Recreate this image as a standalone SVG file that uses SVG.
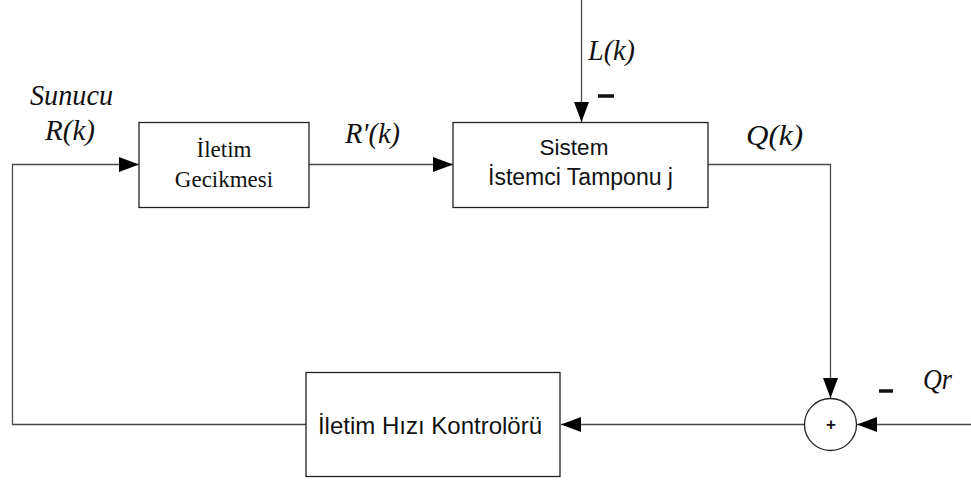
<svg xmlns="http://www.w3.org/2000/svg" width="971" height="482" viewBox="0 0 971 482">
  <style>
    .wire { fill: none; stroke: #4a4a4a; stroke-width: 1.3; }
    .box { fill: #ffffff; stroke: #222222; stroke-width: 1.3; }
    .serif { font-family: "Liberation Serif", "Times New Roman", serif; fill: #111; }
    .sans { font-family: "Liberation Sans", Arial, sans-serif; fill: #111; }
    .math { font-family: "Liberation Serif", "Times New Roman", serif; font-style: italic; font-size: 29px; fill: #111; }
    .minus { stroke: #111; stroke-width: 3.5; }
  </style>
  <defs>
    <marker id="arrow" markerWidth="20" markerHeight="15" refX="20" refY="7.5" orient="auto" markerUnits="userSpaceOnUse">
      <path d="M0,0 L20,7.5 L0,15 Z" fill="#000"/>
    </marker>
  </defs>
  <rect width="971" height="482" fill="#ffffff"/>

  <g id="connectors">
    <!-- disturbance L(k) into the buffer -->
    <line class="wire" x1="581.5" y1="0" x2="581.5" y2="122" marker-end="url(#arrow)"/>
    <!-- delay block to buffer -->
    <line class="wire" x1="309" y1="164.5" x2="453" y2="164.5" marker-end="url(#arrow)"/>
    <!-- Q(k) output down to summing junction -->
    <polyline class="wire" points="708,164.5 830.5,164.5 830.5,398" marker-end="url(#arrow)"/>
    <!-- reference Qr into summing junction -->
    <line class="wire" x1="971" y1="424.5" x2="857" y2="424.5" marker-end="url(#arrow)"/>
    <!-- summing junction to controller -->
    <line class="wire" x1="805" y1="424.5" x2="561" y2="424.5" marker-end="url(#arrow)"/>
    <!-- controller back to server input -->
    <polyline class="wire" points="306,424.5 12.5,424.5 12.5,164.5 139,164.5" marker-end="url(#arrow)"/>
  </g>

  <g id="delay">
    <rect class="box" x="139" y="122.5" width="170" height="85"/>
    <text class="serif" font-size="23" x="224" y="157" text-anchor="middle">İletim</text>
    <text class="serif" font-size="23" x="224" y="187" text-anchor="middle">Gecikmesi</text>
  </g>

  <g id="buffer">
    <rect class="box" x="453" y="122.5" width="255" height="85"/>
    <text class="sans" font-size="22.5" x="574" y="155" text-anchor="middle">Sistem</text>
    <text class="sans" font-size="23" x="580.5" y="185" text-anchor="middle">İstemci Tamponu j</text>
  </g>

  <g id="controller">
    <rect class="box" x="306" y="372.5" width="254" height="104"/>
    <text class="sans" font-size="24" x="430" y="434" text-anchor="middle">İletim Hızı Kontrolörü</text>
  </g>

  <g id="sum">
    <circle cx="830.5" cy="424.5" r="26" fill="#ffffff" stroke="#222" stroke-width="1.3"/>
    <text class="sans" font-size="17" font-weight="bold" x="831" y="430" text-anchor="middle">+</text>
  </g>

  <g id="labels">
    <text class="math" x="30" y="105" textLength="83" lengthAdjust="spacingAndGlyphs">Sunucu</text>
    <text class="math" x="45" y="140" textLength="50" lengthAdjust="spacingAndGlyphs">R(k)</text>
    <text class="math" x="345" y="143" textLength="55" lengthAdjust="spacingAndGlyphs">R'(k)</text>
    <text class="math" x="588" y="60" textLength="47" lengthAdjust="spacingAndGlyphs">L(k)</text>
    <text class="math" x="746" y="145" textLength="57" lengthAdjust="spacingAndGlyphs">Q(k)</text>
    <text class="math" x="923" y="389" textLength="29" lengthAdjust="spacingAndGlyphs">Qr</text>
    <line class="minus" x1="598" y1="96" x2="614" y2="96"/>
    <line class="minus" x1="879" y1="391" x2="893" y2="391"/>
  </g>
</svg>
